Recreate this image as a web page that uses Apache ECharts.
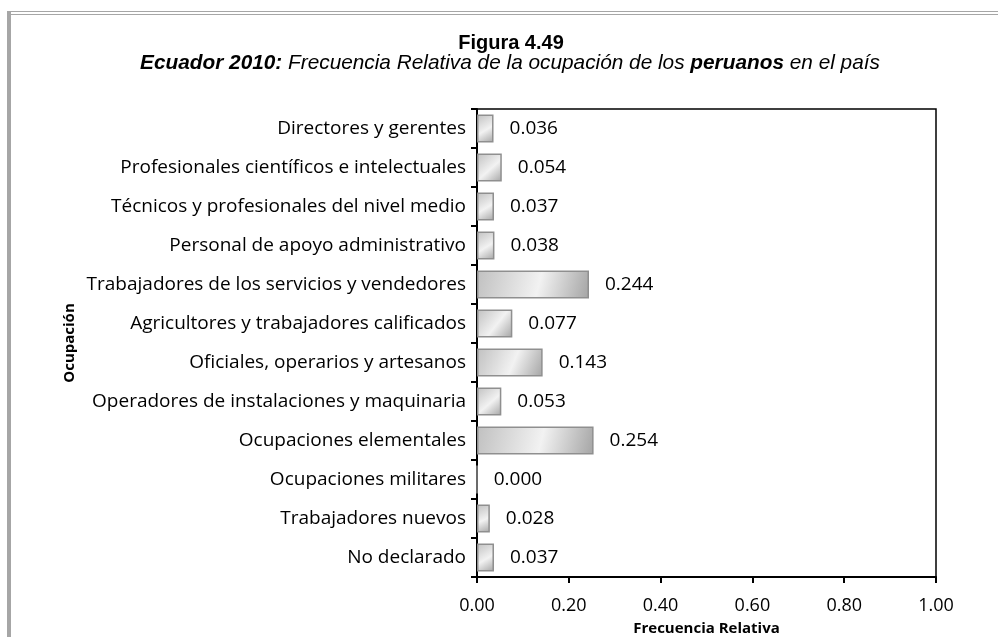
<!DOCTYPE html>
<html><head><meta charset="utf-8">
<script src="https://cdn.jsdelivr.net/npm/echarts@6/dist/echarts.min.js"></script>
<style>html,body{margin:0;padding:0;background:#fff}#c{width:998px;height:637px}</style>
</head><body><div id="c"></div>
<script>
const categories = [
  "Directores y gerentes",
  "Profesionales científicos e intelectuales",
  "Técnicos y profesionales del nivel medio",
  "Personal de apoyo administrativo",
  "Trabajadores de los servicios y vendedores",
  "Agricultores y trabajadores calificados",
  "Oficiales, operarios y artesanos",
  "Operadores de instalaciones y maquinaria",
  "Ocupaciones elementales",
  "Ocupaciones militares",
  "Trabajadores nuevos",
  "No declarado"
];
const values = [0.036, 0.054, 0.037, 0.038, 0.244, 0.077, 0.143, 0.053, 0.254, 0.000, 0.028, 0.037];
const xTicks = [0, 0.2, 0.4, 0.6, 0.8, 1.0];

const chart = echarts.init(document.getElementById('c'));
const lab = "Open Sans";
chart.setOption({
  animation: false,
  title: [
    {text: "Figura 4.49", left: 506, textAlign: 'center', top: 28,
     textStyle: {fontFamily: "Liberation Sans", fontWeight: 'bold', fontSize: 20, color: '#000'}},
    {text: "{b|Ecuador 2010:}{n| Frecuencia Relativa de la ocupación de los }{b|peruanos}{n| en el país}",
     left: 505, textAlign: 'center', top: 48,
     textStyle: {rich: {
       b: {fontFamily: "Liberation Sans", fontWeight: 'bold', fontStyle: 'italic', fontSize: 20.8, color: '#000'},
       n: {fontFamily: "Liberation Sans", fontWeight: 'normal', fontStyle: 'italic', fontSize: 20.8, color: '#000'}
     }}}
  ],
  graphic: [
    {type: 'rect', shape: {x: 7, y: 11, width: 991, height: 1}, style: {fill: '#a6a6a6'}},
    {type: 'rect', shape: {x: 11, y: 14, width: 987, height: 1}, style: {fill: '#a6a6a6'}},
    {type: 'rect', shape: {x: 7, y: 11, width: 4, height: 626}, style: {fill: '#a6a6a6'}}
  ],
  grid: {left: 477, top: 109, right: 62, bottom: 60, show: true, borderColor: '#000', borderWidth: 1.5,
         containLabel: false, outerBoundsMode: 'none'},
  xAxis: {
    type: 'value', min: 0, max: 1, interval: 0.2,
    name: "Frecuencia Relativa", nameLocation: 'middle', nameGap: 44,
    nameTextStyle: {fontFamily: lab, fontWeight: 'bold', fontSize: 15, color: '#000'},
    axisLine: {show: true, lineStyle: {color: '#000', width: 2}},
    axisTick: {show: true, length: 6, lineStyle: {color: '#000', width: 2}},
    splitLine: {show: false},
    axisLabel: {margin: 20, fontFamily: lab, fontSize: 18, color: '#000',
      formatter: v => v.toFixed(2)}
  },
  yAxis: {
    type: 'category', data: categories, inverse: true,
    name: "Ocupación", nameLocation: 'middle', nameGap: 400, nameRotate: 90,
    nameTextStyle: {fontFamily: lab, fontWeight: 'bold', fontSize: 15, color: '#000'},
    axisLine: {show: true, lineStyle: {color: '#000', width: 2}},
    axisTick: {show: true, length: 6, lineStyle: {color: '#000', width: 2}},
    axisLabel: {margin: 11, fontFamily: lab, fontSize: 19, color: '#000'}
  },
  series: [{
    type: 'bar', data: values, barWidth: 28,
    itemStyle: {
      color: new echarts.graphic.LinearGradient(0, 0, 1, 1, [
        {offset: 0, color: '#c0c0c0'},
        {offset: 0.55, color: '#f2f2f2'},
        {offset: 1, color: '#a4a4a4'}
      ]),
      borderColor: '#8f8f8f', borderWidth: 1.5
    },
    label: {show: true, position: 'right', distance: 16, fontFamily: lab, fontSize: 19, color: '#000',
      formatter: p => p.value.toFixed(3)}
  }]
});
</script></body></html>
